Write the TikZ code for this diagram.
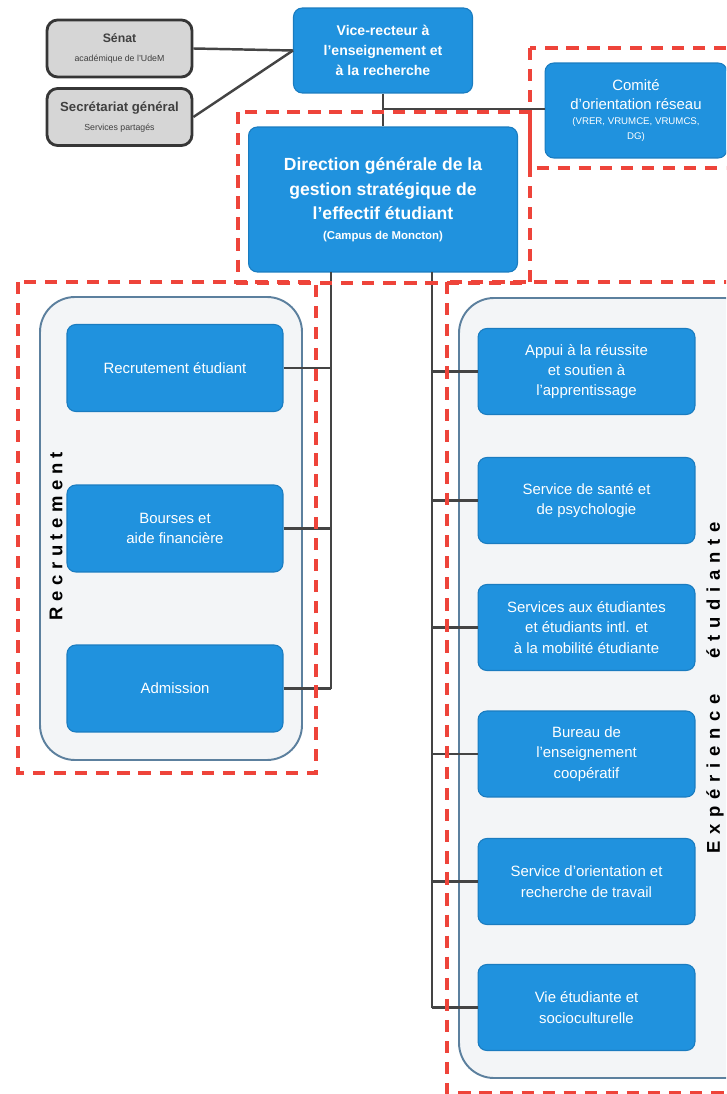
\documentclass[tikz,border=0pt]{standalone}
\usepackage{fontspec}
\setmainfont{Liberation Sans}
\newfontfamily\spacedfont[LetterSpace=30]{Liberation Sans}
\newfontfamily\widefont[LetterSpace=37]{Liberation Sans}
\definecolor{boxblue}{RGB}{32,146,222}
\definecolor{boxedge}{RGB}{26,124,192}
\definecolor{panelfill}{RGB}{243,245,247}
\definecolor{paneledge}{RGB}{92,128,158}
\definecolor{linkgrey}{RGB}{68,68,68}
\definecolor{zonered}{RGB}{238,68,58}
\tikzset{
  bluebox/.style={draw=boxedge, line width=0.6pt, fill=boxblue, rounded corners=5pt,
    text=white, align=center, inner sep=2pt},
  subbox/.style={bluebox, minimum width=4.32cm, minimum height=1.74cm,
    font=\fontsize{8.5}{11.6}\selectfont},
  greybox/.style={draw=linkgrey!80!black, line width=1.6pt, fill=black!16, rounded corners=6pt,
    minimum width=2.9cm, minimum height=1.14cm, align=center, text=black!75},
  panel/.style={draw=paneledge, line width=1.1pt, fill=panelfill, rounded corners=20pt},
  link/.style={draw=linkgrey, line width=1.4pt},
  zone/.style={draw=zonered, line width=2.3pt, dash pattern=on 7pt off 5pt}
}
\begin{document}
\begin{tikzpicture}[x=0.02cm, y=-0.02cm]
  \useasboundingbox (0,0) rectangle (726,1094);
  \clip (0,0) rectangle (726,1094);

  % panels
  \draw[panel] (40,297) rectangle (302,760);
  \draw[panel] (459,298) rectangle (760,1078);

  % top
  \node[greybox] (sen) at (119.5,48.5)
    {{\bfseries\fontsize{7}{8}\selectfont Sénat}\\[-1pt]{\fontsize{5}{6}\selectfont académique de l'UdeM}};
  \node[greybox] (sec) at (119.5,117)
    {{\bfseries\fontsize{7.5}{8}\selectfont Secrétariat général}\\[-1pt]{\fontsize{5}{6}\selectfont Services partagés}};
  \node[bluebox, minimum width=3.58cm, minimum height=1.7cm, font=\bfseries\fontsize{8}{11.3}\selectfont]
    (vr) at (383,50.5) {Vice-recteur à\\l'enseignement et\\à la recherche};
  \node[bluebox, minimum width=3.64cm, minimum height=1.9cm, font=\fontsize{8.5}{10.5}\selectfont]
    (com) at (636,110.5) {Comité\\d'orientation réseau\\[-2pt]{\fontsize{5.5}{6.5}\selectfont (VRER, VRUMCE, VRUMCS,}\\[-2pt]{\fontsize{5.5}{6.5}\selectfont DG)}};
  \node[bluebox, minimum width=5.38cm, minimum height=2.9cm, font=\bfseries\fontsize{10}{14}\selectfont]
    (dir) at (383,199.5) {Direction générale de la\\gestion stratégique de\\l'effectif étudiant\\[-3pt]{\fontsize{6.5}{8}\selectfont (Campus de Moncton)}};

  \draw[link] (sen.east) -- (vr.west);
  \draw[link] (sec.east) -- (vr.west);
  \draw[link] (vr.south) -- (dir.north);
  \coordinate (comjoin) at (383,109);
  \draw[link] (comjoin) -- (comjoin -| com.west);

  % recrutement
  \foreach \name/\y/\txt in {rec1/368/{Recrutement étudiant},
      rec2/528.5/{Bourses et\\aide financière}, rec3/688.5/{Admission}}
    \node[subbox] (\name) at (175,\y) {\txt};
  \coordinate (lefttrunk) at (331,272);
  \draw[link] (lefttrunk) -- (lefttrunk |- rec3.east);
  \foreach \n in {rec1,rec2,rec3}
    \draw[link] (\n.east) -- (\n.east -| lefttrunk);
  \node[rotate=90, font=\spacedfont\bfseries\fontsize{10.5}{12}\selectfont] (reclabel) at (56,536) {Recrutement};

  % experience etudiante
  \foreach \name/\y/\txt in {exp1/371.5/{Appui à la réussite\\et soutien à\\l'apprentissage},
      exp2/500.5/{Service de santé et\\de psychologie},
      exp3/627.5/{Services aux étudiantes\\et étudiants intl. et\\à la mobilité étudiante},
      exp4/754/{Bureau de\\l'enseignement\\coopératif},
      exp5/881.5/{Service d'orientation et\\recherche de travail},
      exp6/1007.5/{Vie étudiante et\\socioculturelle}}
    \node[subbox, minimum width=4.34cm, minimum height=1.72cm] (\name) at (586.5,\y) {\txt};
  \coordinate (righttrunk) at (432,272);
  \draw[link] (righttrunk) -- (righttrunk |- exp6.west);
  \foreach \n in {exp1,exp2,exp3,exp4,exp5,exp6}
    \draw[link] (\n.west) -- (\n.west -| righttrunk);
  \node[rotate=90, font=\widefont\bfseries\fontsize{10.5}{12}\selectfont] (explabel) at (715,688)
    {Expérience\hspace{20pt}étudiante};

  % zones
  \draw[zone] (530,48) rectangle (740,168);
  \draw[zone] (238,112) rectangle (530,283);
  \draw[zone] (18,282) rectangle (316,773);
  \draw[zone] (447,282) rectangle (740,1093);
\end{tikzpicture}
\end{document}
